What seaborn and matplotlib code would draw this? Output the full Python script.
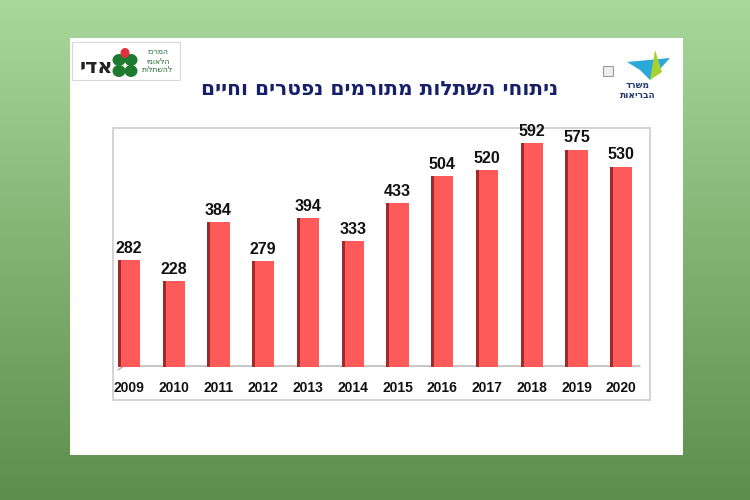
import numpy as np
import matplotlib
matplotlib.use("Agg")
import matplotlib.pyplot as plt
import matplotlib.patches as mpatches
import seaborn as sns

years = ["2009", "2010", "2011", "2012", "2013", "2014",
         "2015", "2016", "2017", "2018", "2019", "2020"]
transplants = [282, 228, 384, 279, 394, 333, 433, 504, 520, 592, 575, 530]
title = "ניתוחי השתלות מתורמים נפטרים וחיים"
left_logo_name = "אדי"
left_logo_lines = ["המרכז", "הלאומי", "להשתלות"]
right_logo_lines = ["משרד", "הבריאות"]


def rtl(s):
    # matplotlib has no bidi support, flip the visual order
    return s[::-1]


sns.set_theme(style="white")
plt.rcParams["font.family"] = ["Liberation Sans", "DejaVu Sans"]

W, H = 750, 500
fig = plt.figure(figsize=(7.5, 5), dpi=100)


def fx(x):
    return x / W


def fy(y):
    return 1 - y / H


# green gradient background
bg = fig.add_axes([0, 0, 1, 1])
top = np.array([168, 216, 155]) / 255
bot = np.array([92, 142, 76]) / 255
t = np.linspace(0, 1, 200)[:, None]
grad = top * (1 - t) + bot * t
bg.imshow(grad[:, None, :].repeat(2, axis=1), aspect="auto", extent=[0, 1, 0, 1])
bg.set_axis_off()

# white slide
bg.add_patch(mpatches.Rectangle((fx(70), fy(455)), fx(613), 417 / H,
                                facecolor="white", edgecolor="none"))
# chart frame
bg.add_patch(mpatches.Rectangle((fx(113), fy(400)), fx(537), 272 / H,
                                facecolor="white", edgecolor="#d4d4d4", lw=1.5))
# floor line
bg.plot([fx(118), fx(124), fx(640)], [fy(370), fy(366), fy(366)],
        color="#b0b0b0", lw=1)
bg.set_xlim(0, 1)
bg.set_ylim(0, 1)

fig.text(fx(380), fy(90), rtl(title), ha="center", va="center",
         fontsize=14.5, fontweight="bold", color="#16206a",
         family=["DejaVu Sans"])

# left logo
bg.add_patch(mpatches.Rectangle((fx(72), fy(80)), fx(108), 38 / H,
                                facecolor="white", edgecolor="#d8d8d8", lw=0.8))
fig.text(fx(96), fy(67), rtl(left_logo_name), ha="center", va="center",
         fontsize=15, fontweight="bold", color="#222222", family=["DejaVu Sans"])
for dx, dy in [(-6, -4), (6, -4), (-6, 7), (6, 7)]:
    bg.add_patch(mpatches.Ellipse((fx(125 + dx), fy(64 + dy)), 13 / W, 12 / H,
                                  facecolor="#1e7a2e", edgecolor="none"))
bg.add_patch(mpatches.Ellipse((fx(125), fy(53)), 9 / W, 10 / H,
                              facecolor="#e0323a", edgecolor="none"))
for i, line in enumerate(left_logo_lines):
    fig.text(fx(158), fy(52 + i * 9), rtl(line), ha="center", va="center",
             fontsize=5.5, color="#1e6a2e", family=["DejaVu Sans"])

# right logo
bg.add_patch(mpatches.Polygon([(fx(627), fy(62)), (fx(670), fy(58)),
                               (fx(650), fy(80)), (fx(640), fy(70))],
                              facecolor="#2aa8d8", edgecolor="none"))
bg.add_patch(mpatches.Polygon([(fx(655), fy(50)), (fx(662), fy(72)),
                               (fx(650), fy(80))],
                              facecolor="#a8d030", edgecolor="none"))
bg.add_patch(mpatches.Rectangle((fx(603), fy(76)), 10 / W, 10 / H,
                                facecolor="#eeeeee", edgecolor="#9a9a9a", lw=0.8))
for i, line in enumerate(right_logo_lines):
    fig.text(fx(638), fy(86 + i * 9), rtl(line), ha="center", va="center",
             fontsize=6.5, fontweight="bold", color="#1f3a6e", family=["DejaVu Sans"])

# bar chart
ax = fig.add_axes([fx(106.6), fy(367), fx(537), (367 - 128) / H])
ax.set_facecolor("none")
sns.barplot(x=years, y=transplants, color="#ff5a5a", saturation=1,
            width=0.5, ax=ax)
for p in ax.patches:
    p.set_edgecolor("none")
    shade = mpatches.Rectangle((p.get_x(), 0), 0.07, p.get_height(),
                               facecolor="#9e2a2a", edgecolor="none")
    ax.add_patch(shade)
ax.bar_label(ax.containers[0], labels=[str(v) for v in transplants],
             padding=3, fontsize=11.5, fontweight="bold", color="#111111")
ax.set_ylim(0, 632)
ax.set_xlim(-0.5, 11.5)
ax.set_yticks([])
ax.tick_params(axis="x", length=0, pad=10, labelsize=10)
for lbl in ax.get_xticklabels():
    lbl.set_fontweight("bold")
    lbl.set_color("#111111")
sns.despine(ax=ax, left=True, bottom=True)
ax.set_xlabel("")
ax.set_ylabel("")

fig.savefig("out.png", dpi=100)
